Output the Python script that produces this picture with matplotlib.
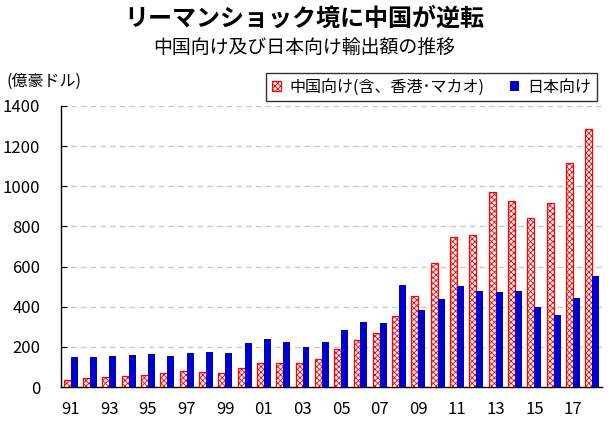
import numpy as np
import matplotlib
matplotlib.use('Agg')
import matplotlib.pyplot as plt

plt.rcParams['font.family'] = ['Noto Sans CJK JP', 'DejaVu Sans']
plt.rcParams['hatch.linewidth'] = 0.6

# 輸出額（億豪ドル）
years = list(range(1991, 2019))
china = [33, 45, 50, 55, 58, 68, 78, 73, 68, 93, 118, 118, 118, 138,
         190, 236, 269, 354, 454, 618, 748, 758, 973, 928, 843, 916, 1117, 1287]
japan = [148, 148, 153, 158, 163, 153, 168, 173, 168, 218, 238, 223, 198, 224,
         286, 324, 319, 509, 384, 439, 504, 479, 474, 479, 399, 359, 442, 552]
tick_labels = [f'{y % 100:02d}' for y in years]

fig = plt.figure(figsize=(6.08, 4.30), dpi=100)
ax = fig.add_axes([61 / 608, 1 - 387 / 430, 541 / 608, 281 / 430])

x = np.arange(len(years))
w = 0.36
ax.bar(x - w / 2, china, w, facecolor='white', edgecolor='red', hatch='xxxxxx',
       linewidth=0.9, label='中国向け(含、香港･マカオ)', zorder=3)
ax.bar(x + w / 2, japan, w, color='#0000CC', label='日本向け', zorder=3)

ax.set_xlim(-0.5, len(years) - 0.5)
ax.set_ylim(0, 1400)
ax.set_yticks(range(0, 1401, 200))
ax.set_xticks(x[::2])
ax.set_xticklabels(tick_labels[::2])
ax.tick_params(axis='x', length=0, labelsize=12, pad=10)
ax.tick_params(axis='y', direction='in', length=4, labelsize=12, pad=15)
ax.yaxis.grid(True, linestyle=(0, (4, 3)), color='#c8c8c8', linewidth=1, zorder=0)
for s in ['top', 'right']:
    ax.spines[s].set_visible(False)
ax.spines['left'].set_linewidth(1)
ax.spines['bottom'].set_linewidth(1)

fig.text(0.5, 1 - 19 / 430, 'リーマンショック境に中国が逆転', ha='center', va='center',
         fontsize=17.3, fontweight='bold')
fig.text(0.5, 1 - 47 / 430, '中国向け及び日本向け輸出額の推移', ha='center', va='center',
         fontsize=13.6)
fig.text(6 / 608, 1 - 81 / 430, '(億豪ドル)', ha='left', va='center', fontsize=11.5)

leg = fig.legend(loc='upper right', bbox_to_anchor=(597 / 608, 1 - 73 / 430), ncol=2,
                 frameon=True, fancybox=False, fontsize=11.5, handlelength=0.6,
                 handleheight=0.6, handletextpad=0.5, columnspacing=1.6,
                 borderpad=0.35, borderaxespad=0, edgecolor='black')
leg.get_frame().set_linewidth(1)

fig.savefig('out.png', dpi=100)
